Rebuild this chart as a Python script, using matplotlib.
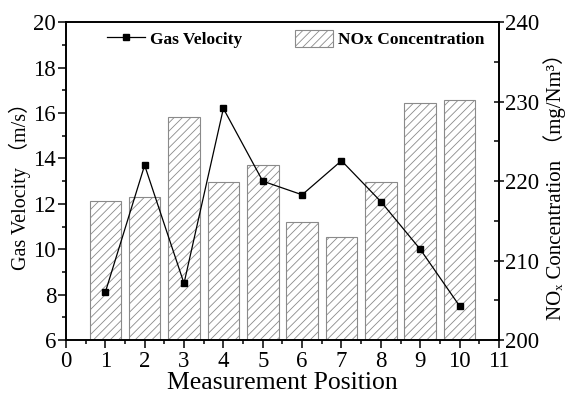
import matplotlib
matplotlib.use('Agg')
import matplotlib.pyplot as plt
from matplotlib.ticker import MultipleLocator

positions = [1, 2, 3, 4, 5, 6, 7, 8, 9, 10]
gas_velocity = [8.1, 13.7, 8.5, 16.2, 13.0, 12.4, 13.9, 12.1, 10.0, 7.5]
nox_conc = [217.5, 218.0, 228.1, 219.9, 222.0, 214.9, 213.0, 219.9, 229.8, 230.2]

plt.rcParams['font.family'] = ['Liberation Serif', 'Noto Sans CJK SC', 'DejaVu Sans']
plt.rcParams['hatch.linewidth'] = 0.6

fig = plt.figure(figsize=(5.68, 4.03), dpi=100)
ax = fig.add_axes([0.116, 0.156, 0.7625, 0.789])
ax2 = ax.twinx()

bars = ax2.bar(positions, nox_conc, width=0.8, bottom=0, facecolor='white',
               edgecolor='#8a8a8a', hatch='////', linewidth=0.8, label='NOx Concentration')
line, = ax.plot(positions, gas_velocity, color='black', linewidth=0.9, marker='s',
                markersize=4.5, label='Gas Velocity')

# keep the line above the bars of the twin axis
ax.set_zorder(ax2.get_zorder() + 1)
ax.patch.set_visible(False)

ax.set_xlim(0, 11)
ax.set_ylim(6, 20)
ax2.set_ylim(200, 240)
ax.xaxis.set_major_locator(MultipleLocator(1))
ax.xaxis.set_minor_locator(MultipleLocator(0.5))
ax.yaxis.set_major_locator(MultipleLocator(2))
ax.yaxis.set_minor_locator(MultipleLocator(1))
ax2.yaxis.set_major_locator(MultipleLocator(10))
ax2.yaxis.set_minor_locator(MultipleLocator(5))

ax.tick_params(axis='both', which='major', direction='out', length=6, width=1.1, labelsize=16.5)
ax.tick_params(axis='both', which='minor', direction='out', length=3, width=1.1)
ax.tick_params(axis='y', which='major', pad=1)
ax.tick_params(axis='x', which='major', pad=2)
ax2.tick_params(axis='y', which='major', direction='inout', length=7, width=1.1, labelsize=16.5, pad=1)
ax2.tick_params(axis='y', which='minor', direction='in', length=3.5, width=1.1)

for a in (ax, ax2):
    for s in a.spines.values():
        s.set_linewidth(1.2)

ax.set_xlabel('Measurement Position', fontsize=18.5, labelpad=0)
ax.set_ylabel('Gas Velocity （m/s）', fontsize=14.5, labelpad=2)
ax2.set_ylabel('NOₓ Concentration （mg/Nm³）', fontsize=15, labelpad=3)

ax.legend([line, bars], ['Gas Velocity', 'NOx Concentration'], ncol=2, frameon=False,
          loc='upper left', bbox_to_anchor=(0.095, 0.975), borderaxespad=0, borderpad=0,
          prop={'weight': 'bold', 'size': 12.5}, handlelength=2.2, handleheight=1.1,
          columnspacing=3.0, handletextpad=0.3)

fig.savefig('out.png', dpi=100)
